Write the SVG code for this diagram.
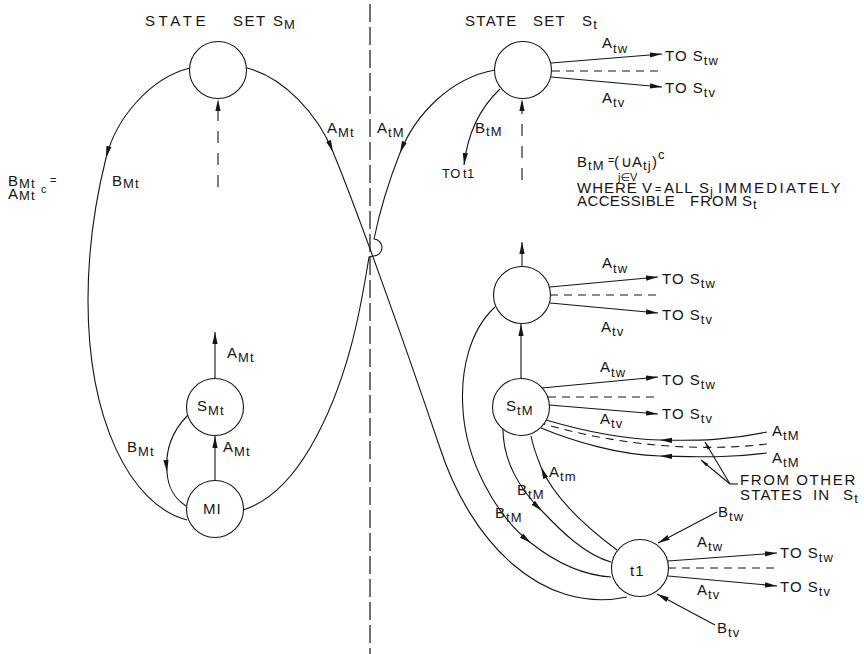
<svg xmlns="http://www.w3.org/2000/svg" width="864" height="654" viewBox="0 0 864 654">
<style>
 .node{fill:#fff;stroke:#151515;stroke-width:1.1}
 .ln{fill:none;stroke:#151515;stroke-width:1.1}
 .dash{fill:none;stroke:#151515;stroke-width:1.1;stroke-dasharray:8 6}
 .ddash{stroke-dasharray:12 10}
 .div{fill:none;stroke:#151515;stroke-width:1.2;stroke-dasharray:18 5}
 .arr{marker-end:url(#ah)}
 .arrs{marker-end:url(#ahs)}
 text{font-family:"Liberation Sans","DejaVu Sans",Arial,sans-serif;font-size:15px;fill:#151515;letter-spacing:1px}
 .s{font-size:13px;letter-spacing:1.2px}
 .sm{font-size:11px;letter-spacing:0}
</style>
<defs>
 <marker id="ah" viewBox="0 0 12 6" refX="12" refY="3" markerWidth="12" markerHeight="6" markerUnits="userSpaceOnUse" orient="auto"><path d="M0,0.4 L12,3 L0,5.6z" fill="#151515"/></marker>
 <marker id="ahs" viewBox="0 0 8 4" refX="8" refY="2" markerWidth="8" markerHeight="4" markerUnits="userSpaceOnUse" orient="auto"><path d="M0,0.3 L8,2 L0,3.7z" fill="#151515"/></marker>
</defs>
<rect width="864" height="654" fill="#fff"/>

<g id="connectors">
 <path class="div" d="M370,4 V654"/>
 <!-- B_Mt big loop -->
 <path class="ln arr" d="M190,68 C150,78 116,118 106,158"/>
 <path class="ln" d="M106,158 C96,198 88,250 88,300 C88,420 130,505 187,520"/>
 <!-- A_Mt figure eight -->
 <path class="ln arr" d="M247,68 C285,78 318,115 333,152"/>
 <path class="ln" d="M333,152 C355,205 400,330 440,448 C470,540 540,615 627,597"/>
 <!-- A_tM figure eight with hop -->
 <path class="ln arr" d="M495,70 C450,78 415,115 400,153"/>
 <path class="ln" d="M400,153 C392,173 381,205 374,239 A8.5,8.5 0 0 1 373,256 L369,257 C362,300 350,380 310,448 C290,482 268,502 243,510"/>
 <!-- B_tM to t1 (top) -->
 <path class="ln arr" d="M500,89 C482,106 468,130 464,165"/>
 <!-- dashed arrows -->
 <path class="ln ddash arr" d="M218,187 V99"/>
 <path class="ln ddash arr" d="M522,180 V99"/>
 <!-- S_Mt / MI -->
 <path class="ln arr" d="M215,379 V332"/>
 <path class="ln arr" d="M215,481 V436"/>
 <path class="ln arr" d="M188,415 C173,430 165,450 167,472"/>
 <path class="ln" d="M167,472 C168,488 174,498 186,506"/>
 <!-- right column vertical -->
 <path class="ln arr" d="M522,267 V242"/>
 <path class="ln arr" d="M521,379 V324"/>
 <!-- outgoing top -->
 <path class="ln arr" d="M551,63 L662,54"/>
 <path class="dash" d="M552,71 H660"/>
 <path class="ln arr" d="M551,77 L662,87"/>
 <!-- outgoing mid -->
 <path class="ln arr" d="M550,287 L658,277"/>
 <path class="dash" d="M550,295 H657"/>
 <path class="ln arr" d="M550,303 L658,313"/>
 <!-- outgoing StM -->
 <path class="ln arr" d="M542,388 L658,377"/>
 <path class="dash" d="M548,397 H657"/>
 <path class="ln arr" d="M549,405 L658,414"/>
 <!-- incoming A_tM -->
 <path class="ln arr" d="M767,432 C730,440 700,441 660,440"/>
 <path class="ln" d="M660,440 C620,439 580,430 546,420"/>
 <path class="dash" d="M767,444 C700,452 620,446 544,424"/>
 <path class="ln arr" d="M767,453 C730,458 700,457 660,456"/>
 <path class="ln" d="M660,456 C620,455 575,442 541,428"/>
 <!-- pointers -->
 <path class="ln" d="M738,484 H730"/>
 <path class="ln arrs" d="M730,484 L705,442"/>
 <path class="ln arrs" d="M730,484 L701,460"/>
 <!-- t1 curves -->
 <path class="ln arr" d="M617,550 C590,530 555,500 541,467"/>
 <path class="ln" d="M541,467 C537,457 533,447 531,436"/>
 <path class="ln arr" d="M503,426 C502,460 520,490 542,511"/>
 <path class="ln" d="M542,511 C560,530 585,555 611,562"/>
 <path class="ln arr" d="M495,307 C470,330 460,370 463,410 C466,460 495,515 531,543"/>
 <path class="ln" d="M531,543 C555,562 580,575 611,577"/>
 <!-- t1 outgoing/incoming -->
 <path class="ln arr" d="M668,561 L777,553"/>
 <path class="dash" d="M668,568 H775"/>
 <path class="ln arr" d="M668,576 L777,586"/>
 <path class="ln arr" d="M717,512 L658,543"/>
 <path class="ln arr" d="M715,625 L657,594"/>
</g>

<g id="node-SM-top"><circle class="node" cx="218" cy="70" r="28.5"/></g>
<g id="node-SMt"><circle class="node" cx="215" cy="407" r="28.5"/><text x="197" y="411">S<tspan class="s" dy="4">Mt</tspan></text></g>
<g id="node-MI"><circle class="node" cx="215" cy="509" r="28.5"/><text x="203" y="514">MI</text></g>
<g id="node-St-top"><circle class="node" cx="523" cy="70" r="28.5"/></g>
<g id="node-St-mid"><circle class="node" cx="522" cy="295" r="28.5"/></g>
<g id="node-StM"><circle class="node" cx="521" cy="407" r="28.5"/><text x="506" y="411">S<tspan class="s" dy="4">tM</tspan></text></g>
<g id="node-t1"><circle class="node" cx="640" cy="568" r="28.5"/><text x="630" y="576">t1</text></g>

<g id="labels">
 <text x="145" y="26" style="letter-spacing:3.6px">STATE<tspan x="233" style="letter-spacing:1.5px">SET</tspan><tspan x="273" style="letter-spacing:1px">S</tspan><tspan class="s" dy="3">M</tspan></text>
 <text x="465" y="26" style="letter-spacing:1.3px">STATE<tspan x="533">SET</tspan><tspan x="582">S</tspan><tspan class="s" dy="3">t</tspan></text>

 <text x="8" y="186">B<tspan class="s" dy="2">Mt</tspan><tspan class="sm" x="50" dy="-4">=</tspan></text>
 <text x="8" y="199">A<tspan class="s" dy="1">Mt</tspan><tspan class="sm" x="41" y="193">c</tspan></text>
 <text x="112" y="186">B<tspan class="s" dy="2">Mt</tspan></text>
 <text x="327" y="133">A<tspan class="s" dy="4">Mt</tspan></text>
 <text x="377" y="133">A<tspan class="s" dy="4">tM</tspan></text>
 <text x="475" y="133">B<tspan class="s" dy="3">tM</tspan></text>
 <text x="442" y="178" style="font-size:13px;letter-spacing:0.5px">TO<tspan x="463">t1</tspan></text>

 <text x="227" y="358">A<tspan class="s" dy="4">Mt</tspan></text>
 <text x="223" y="452">A<tspan class="s" dy="4">Mt</tspan></text>
 <text x="127" y="452">B<tspan class="s" dy="4">Mt</tspan></text>

 <text x="602" y="48">A<tspan class="s" dy="5">tw</tspan></text>
 <text x="665" y="61">TO S<tspan class="s" dy="4">tw</tspan></text>
 <text x="665" y="93">TO S<tspan class="s" dy="4">tv</tspan></text>
 <text x="602" y="103">A<tspan class="s" dy="4">tv</tspan></text>

 <text y="167"><tspan x="577">B</tspan><tspan class="s" x="588" y="170">tM</tspan><tspan class="sm" x="608" y="164">=</tspan><tspan x="614" y="167">(</tspan><tspan x="621" y="167">∪</tspan><tspan x="632" y="167">A</tspan><tspan class="s" x="643" y="170">tj</tspan><tspan x="652" y="167">)</tspan><tspan class="s" x="658" y="159">c</tspan></text>
 <text x="618" y="181" class="sm">j∈V</text>
 <text y="193"><tspan x="577">WHERE</tspan><tspan x="642">V</tspan><tspan class="sm" x="655">=</tspan><tspan x="664">ALL</tspan><tspan x="699">S</tspan><tspan class="s" dy="3" style="letter-spacing:0">j</tspan><tspan x="718" dy="-3" style="letter-spacing:2.3px">IMMEDIATELY</tspan></text>
 <text y="206"><tspan x="577" style="letter-spacing:0.4px">ACCESSIBLE</tspan><tspan x="690">FROM</tspan><tspan x="742">S</tspan><tspan class="s" dy="3">t</tspan></text>

 <text x="602" y="268">A<tspan class="s" dy="5">tw</tspan></text>
 <text x="662" y="284">TO S<tspan class="s" dy="4">tw</tspan></text>
 <text x="662" y="320">TO S<tspan class="s" dy="4">tv</tspan></text>
 <text x="601" y="332">A<tspan class="s" dy="4">tv</tspan></text>

 <text x="600" y="372">A<tspan class="s" dy="5">tw</tspan></text>
 <text x="662" y="385">TO S<tspan class="s" dy="4">tw</tspan></text>
 <text x="662" y="419">TO S<tspan class="s" dy="4">tv</tspan></text>
 <text x="600" y="424">A<tspan class="s" dy="4">tv</tspan></text>

 <text x="772" y="436">A<tspan class="s" dy="4">tM</tspan></text>
 <text x="772" y="463">A<tspan class="s" dy="4">tM</tspan></text>
 <text x="740" y="485" style="letter-spacing:1.6px">FROM OTHER</text>
 <text y="500" style="letter-spacing:1.2px"><tspan x="740">STATES</tspan><tspan x="813">IN</tspan><tspan x="843">S</tspan><tspan class="s" dy="3">t</tspan></text>

 <text x="549" y="477">A<tspan class="s" dy="4">tm</tspan></text>
 <text x="517" y="495">B<tspan class="s" dy="4">tM</tspan></text>
 <text x="495" y="518">B<tspan class="s" dy="4">tM</tspan></text>

 <text x="718" y="517">B<tspan class="s" dy="4">tw</tspan></text>
 <text x="697" y="547">A<tspan class="s" dy="4">tw</tspan></text>
 <text x="780" y="558">TO S<tspan class="s" dy="4">tw</tspan></text>
 <text x="780" y="592">TO S<tspan class="s" dy="4">tv</tspan></text>
 <text x="697" y="595">A<tspan class="s" dy="4">tv</tspan></text>
 <text x="717" y="633">B<tspan class="s" dy="4">tv</tspan></text>
</g>
</svg>
